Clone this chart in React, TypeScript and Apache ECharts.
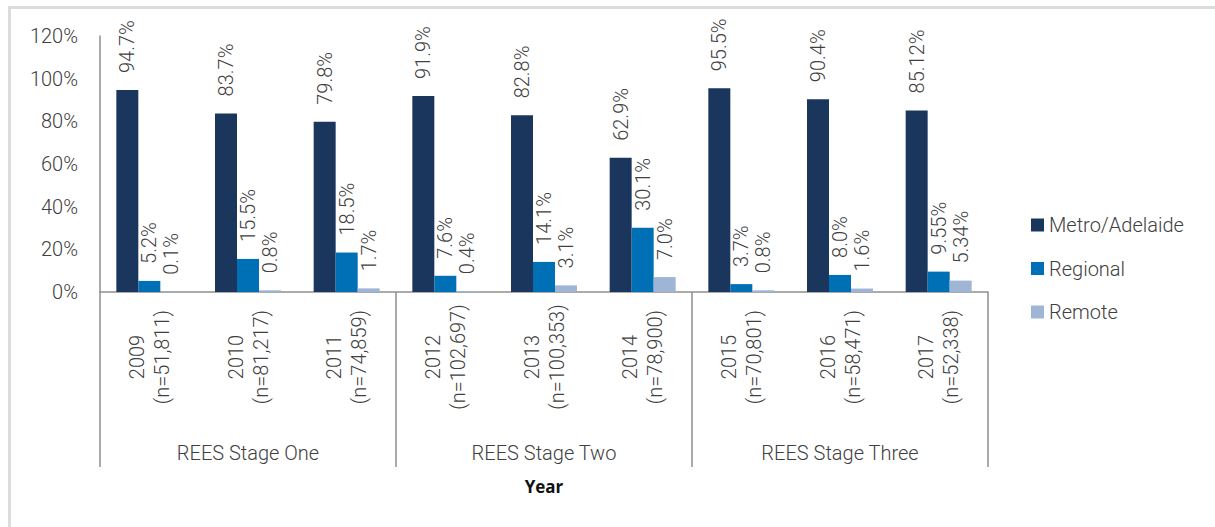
import React, { useEffect, useRef } from "react";
import * as echarts from "echarts";

const years = ["2009", "2010", "2011", "2012", "2013", "2014", "2015", "2016", "2017"];
const sampleSizes = ["51,811", "81,217", "74,859", "102,697", "100,353", "78,900", "70,801", "58,471", "52,338"];
const stages = ["REES Stage One", "REES Stage Two", "REES Stage Three"];
const metro = [94.7, 83.7, 79.8, 91.9, 82.8, 62.9, 95.5, 90.4, 85.12];
const regional = [5.2, 15.5, 18.5, 7.6, 14.1, 30.1, 3.7, 8.0, 9.55];
const remote = [0.1, 0.8, 1.7, 0.4, 3.1, 7.0, 0.8, 1.6, 5.34];
const yTicks = [0, 20, 40, 60, 80, 100, 120];

const TEXT = "#404040";
const AXIS = "#8f8f8f";
const FONT = "Roboto";

function fmt(v: number): string {
  const t = v * 10;
  const d = Math.abs(t - Math.round(t)) < 1e-6 ? 1 : 2;
  return v.toFixed(d) + "%";
}

export default function App() {
  const ref = useRef<HTMLDivElement>(null);
  useEffect(() => {
    document.body.style.margin = "0";
    if (!ref.current) return;
    const chart = echarts.init(ref.current, null, { renderer: "svg" });
    const labelCfg = {
      show: true,
      position: "top",
      distance: 17,
      rotate: 90,
      align: "left",
      verticalAlign: "middle",
      fontFamily: FONT,
      fontWeight: 300,
      fontSize: 20,
      color: TEXT,
      formatter: (p: any) => fmt(p.value),
    };
    const mkSeries = (name: string, data: number[], color: string) => ({
      name,
      type: "bar",
      data,
      barWidth: 22,
      barGap: "0%",
      itemStyle: { color },
      label: labelCfg,
    });
    chart.setOption({
      animation: false,
      backgroundColor: "#ffffff",
      graphic: [
        {
          type: "rect",
          shape: { x: 9.5, y: 7.5, width: 1400, height: 800 },
          style: { fill: "none", stroke: "#dcdcdc", lineWidth: 3 },
          silent: true,
        },
      ],
      grid: { left: 100, right: 227, top: 36, bottom: 235, containLabel: false },
      legend: {
        orient: "vertical",
        left: 1026,
        top: 210,
        itemWidth: 13,
        itemHeight: 13,
        itemGap: 23.5,
        icon: "rect",
        textStyle: { fontFamily: FONT, fontWeight: 300, fontSize: 20, color: TEXT, lineHeight: 20 },
        data: ["Metro/Adelaide", "Regional", "Remote"],
      },
      xAxis: [
        {
          type: "category",
          data: years.map((y, i) => y + "\n(n=" + sampleSizes[i] + ")"),
          position: "bottom",
          axisLine: { show: true, lineStyle: { color: AXIS, width: 1.5 } },
          axisTick: { show: false },
          axisLabel: {
            interval: 0,
            rotate: 90,
            align: "center",
            verticalAlign: "middle",
            margin: 65,
            lineHeight: 25,
            fontFamily: FONT,
            fontWeight: 300,
            fontSize: 20,
            color: TEXT,
          },
        },
        {
          type: "category",
          data: stages,
          position: "bottom",
          gridIndex: 0,
          axisLine: { show: false },
          axisTick: { show: true, length: 175, lineStyle: { color: AXIS, width: 1.5 } },
          axisLabel: {
            interval: 0,
            margin: 151,
            fontFamily: FONT,
            fontWeight: 300,
            fontSize: 20,
            color: TEXT,
          },
          name: "Year",
          nameLocation: "middle",
          nameGap: 186,
          nameTextStyle: { fontFamily: "Open Sans", fontWeight: 700, fontSize: 17, color: "#111111" },
        },
      ],
      yAxis: {
        type: "value",
        min: yTicks[0],
        max: yTicks[yTicks.length - 1],
        interval: 20,
        axisLine: { show: true, lineStyle: { color: AXIS, width: 1.5 } },
        axisTick: { show: false },
        splitLine: { show: false },
        axisLabel: {
          margin: 22,
          formatter: "{value}%",
          fontFamily: FONT,
          fontWeight: 300,
          fontSize: 20,
          color: TEXT,
        },
      },
      series: [
        mkSeries("Metro/Adelaide", metro, "#1b365d"),
        mkSeries("Regional", regional, "#0070b6"),
        mkSeries("Remote", remote, "#9fb5d6"),
      ],
    });
    return () => chart.dispose();
  }, []);
  return <div ref={ref} style={{ width: 1215, height: 527 }} />;
}
